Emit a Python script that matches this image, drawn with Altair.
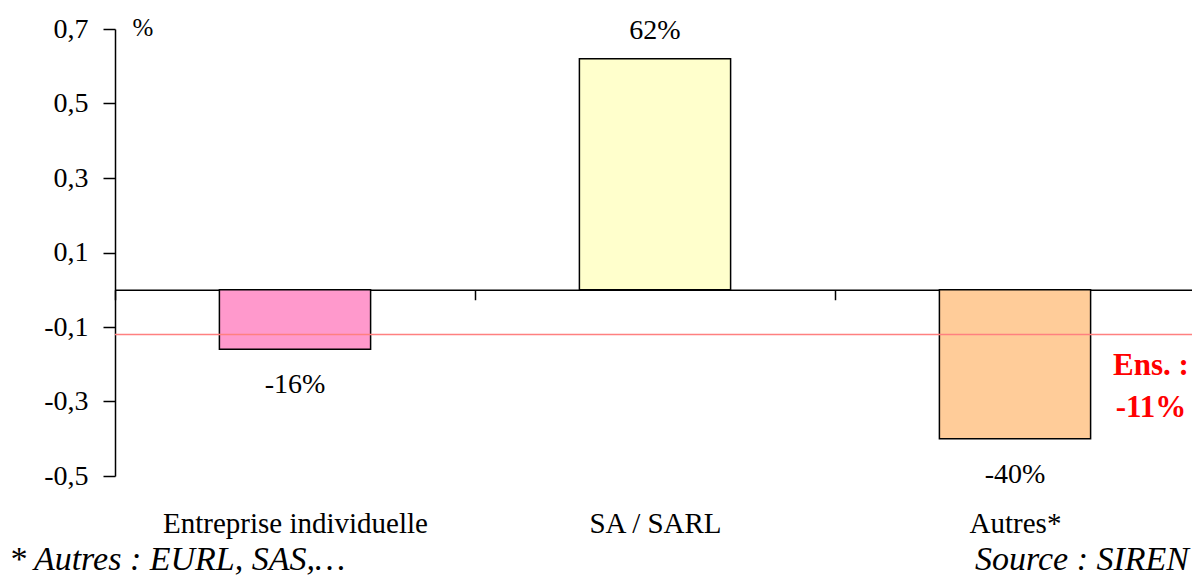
import altair as alt
import pandas as pd

categories = ["Entreprise individuelle", "SA / SARL", "Autres*"]
values = [-0.16, 0.62, -0.40]
colors = ["#FF99CC", "#FFFFCC", "#FFCC99"]
y_ticks = [0.7, 0.5, 0.3, 0.1, -0.1, -0.3, -0.5]
ens_value = -0.12
ens_label = ["Ens. :", "-11%"]
note_left = "* Autres : EURL, SAS,…"
note_right = "Source : SIREN"

FONT = "'Liberation Serif', 'Times New Roman', serif"
W, H = 1080, 447

df = pd.DataFrame({"cat": categories, "value": values, "color": colors})

base = alt.Chart(df)

x_scale = alt.Scale(paddingInner=0, paddingOuter=0)
x_enc = alt.X("cat:N", sort=categories, title=None, scale=x_scale,
              axis=alt.Axis(orient="bottom", offset=-186.25, domain=True, domainColor="black",
                            domainWidth=1.5, ticks=True, tickBand="extent", tickSize=10,
                            tickColor="black", tickWidth=1.5, labelAngle=0, labelLimit=0,
                            labelPadding=210, labelFontSize=29, labelFont=FONT,
                            labelColor="black", labelBaseline="top", grid=False))
y_scale = alt.Scale(domain=[-0.5, 0.7], nice=False, zero=False)
y_enc = alt.Y("value:Q", scale=y_scale, title="%",
              axis=alt.Axis(values=y_ticks, grid=False, domainColor="black", domainWidth=1.5,
                            tickColor="black", tickWidth=1.5, tickSize=12, labelPadding=15,
                            labelFontSize=28, labelFont=FONT, labelColor="black",
                            labelExpr="replace(toString(datum.value), '.', ',')",
                            titleAngle=0, titleX=17, titleY=-2, titleAlign="left",
                            titleBaseline="middle", titleFont=FONT, titleFontSize=25,
                            titleFontWeight="normal", titleColor="black"))

bars = base.mark_bar(stroke="black", strokeWidth=1.5, width=alt.RelativeBandSize(0.42)).encode(
    x=x_enc,
    y=y_enc,
    y2=alt.datum(0),
    color=alt.Color("color:N", scale=None),
)

lab = base.transform_calculate(label="toString(round(datum.value*100)) + '%'")
x_plain = alt.X("cat:N", sort=categories, scale=x_scale, title=None)
y_plain = alt.Y("value:Q", scale=y_scale, title="%")

pos_labels = lab.transform_filter("datum.value >= 0").mark_text(
    font=FONT, fontSize=28, baseline="bottom", dy=-14, color="black"
).encode(x=x_plain, y=y_plain, text="label:N")

neg_labels = lab.transform_filter("datum.value < 0").mark_text(
    font=FONT, fontSize=28, baseline="top", dy=22, color="black"
).encode(x=x_plain, y=y_plain, text="label:N")

ens_df = pd.DataFrame({"v": [ens_value]})
ens_line = alt.Chart(ens_df).mark_rule(color="#FF8080", strokeWidth=1.5).encode(
    y=alt.Y("v:Q", scale=y_scale, title="%"), x=alt.value(0), x2=alt.value(W))

ens_text = alt.Chart(pd.DataFrame({"t": [ens_label]})).mark_text(
    font=FONT, fontSize=31, fontWeight="bold", color="#FF0000", lineHeight=42,
    align="center", baseline="middle"
).encode(text="t", x=alt.value(1036), y=alt.value(337))

note_l = alt.Chart(pd.DataFrame({"t": [note_left]})).mark_text(
    font=FONT, fontSize=34, fontStyle="italic", color="black", baseline="alphabetic", align="left"
).encode(text="t", x=alt.value(-106), y=alt.value(541))
note_r = alt.Chart(pd.DataFrame({"t": [note_right]})).mark_text(
    font=FONT, fontSize=34, fontStyle="italic", color="black", baseline="alphabetic", align="right"
).encode(text="t", x=alt.value(1074), y=alt.value(541))

chart = alt.layer(bars, ens_line, pos_labels, neg_labels, ens_text, note_l, note_r).properties(
    width=W, height=H,
    background="white",
    autosize=alt.AutoSizeParams(type="none"),
    padding={"left": 107, "top": 21, "right": -3, "bottom": 102},
).configure_view(stroke="transparent", strokeWidth=0).configure_axis(grid=False)

chart.save("out.html", embed_options={"renderer": "svg", "actions": False})
